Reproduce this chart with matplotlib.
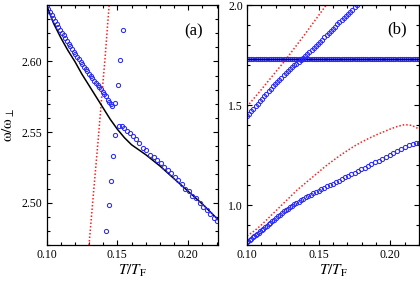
import matplotlib
matplotlib.use("Agg")
import matplotlib.pyplot as plt
from matplotlib.ticker import MultipleLocator

plt.rcParams['font.family'] = ['Liberation Serif', 'DejaVu Serif']
plt.rcParams['mathtext.fontset'] = 'stix'

# ---------------- Panel (a) data ----------------
a_line_T = [0.100, 0.105, 0.110, 0.115, 0.120, 0.125, 0.130, 0.135, 0.140, 0.145,
            0.150, 0.155, 0.160, 0.170, 0.180, 0.190, 0.200, 0.210, 0.221]
a_line_w = [2.640, 2.627, 2.617, 2.608, 2.600, 2.591, 2.583, 2.575, 2.567, 2.559,
            2.552, 2.546, 2.541, 2.534, 2.526, 2.517, 2.508, 2.499, 2.488]

a_up_T = [0.1000, 0.1012, 0.1024, 0.1036, 0.1048, 0.1060, 0.1072, 0.1084, 0.1096, 0.1108,
          0.1120, 0.1132, 0.1144, 0.1156, 0.1168, 0.1180, 0.1192, 0.1204, 0.1216, 0.1228,
          0.1240, 0.1252, 0.1264, 0.1276, 0.1288, 0.1300, 0.1312, 0.1324, 0.1336, 0.1348,
          0.1360, 0.1372, 0.1384, 0.1396, 0.1408, 0.1420, 0.1432, 0.1444, 0.1455, 0.1465]
a_up_w = [2.6400, 2.6375, 2.6352, 2.6330, 2.6308, 2.6287, 2.6266, 2.6245, 2.6225, 2.6205,
          2.6185, 2.6165, 2.6146, 2.6127, 2.6108, 2.6089, 2.6070, 2.6052, 2.6034, 2.6016,
          2.5998, 2.5981, 2.5964, 2.5947, 2.5930, 2.5913, 2.5897, 2.5881, 2.5865, 2.5849,
          2.5833, 2.5818, 2.5802, 2.5787, 2.5772, 2.5757, 2.5730, 2.5712, 2.5697, 2.5685]

a_iso_T = [0.1543, 0.1521, 0.1505, 0.1486, 0.1486, 0.1469, 0.1455, 0.1438, 0.1419]
a_iso_w = [2.622, 2.601, 2.583, 2.5705, 2.548, 2.533, 2.5155, 2.498, 2.480]

a_low_T = [0.1510, 0.1530, 0.1550, 0.1570, 0.1590, 0.1610, 0.1630, 0.1655, 0.1680, 0.1705,
           0.1730, 0.1755, 0.1780, 0.1805, 0.1830, 0.1855, 0.1880, 0.1905, 0.1930, 0.1955,
           0.1980, 0.2005, 0.2030, 0.2055, 0.2080, 0.2105, 0.2130, 0.2155, 0.2180, 0.2205]
a_low_w = [2.554, 2.554, 2.553, 2.551, 2.549, 2.547, 2.545, 2.542, 2.539, 2.537,
           2.534, 2.532, 2.530, 2.528, 2.525, 2.523, 2.521, 2.518, 2.516, 2.513,
           2.510, 2.508, 2.505, 2.503, 2.500, 2.497, 2.495, 2.492, 2.489, 2.487]

a_red_T = [0.1300, 0.1330, 0.1365, 0.1389, 0.1412, 0.1442]
a_red_w = [2.470, 2.505, 2.545, 2.574, 2.601, 2.640]

# ---------------- Panel (b) data ----------------
b_flat_level = 1.73
b_flat_T = [0.1000, 0.1015, 0.1030, 0.1045, 0.1060, 0.1075, 0.1090, 0.1105, 0.1120, 0.1135,
            0.1150, 0.1165, 0.1180, 0.1195, 0.1210, 0.1225, 0.1240, 0.1255, 0.1270, 0.1285,
            0.1300, 0.1315, 0.1330, 0.1345, 0.1360, 0.1375, 0.1390, 0.1405, 0.1420, 0.1435,
            0.1450, 0.1465, 0.1480, 0.1495, 0.1510, 0.1525, 0.1540, 0.1555, 0.1570, 0.1585,
            0.1600, 0.1615, 0.1630, 0.1645, 0.1660, 0.1675, 0.1690, 0.1705, 0.1720, 0.1735,
            0.1750, 0.1765, 0.1780, 0.1795, 0.1810, 0.1825, 0.1840, 0.1855, 0.1870, 0.1885,
            0.1900, 0.1915, 0.1930, 0.1945, 0.1960, 0.1975, 0.1990, 0.2005, 0.2020, 0.2035,
            0.2050, 0.2065, 0.2080, 0.2095, 0.2110, 0.2125, 0.2140, 0.2155, 0.2170, 0.2185,
            0.2200]

b_up_T = [0.1000, 0.1015, 0.1030, 0.1045, 0.1060, 0.1075, 0.1090, 0.1105, 0.1120, 0.1135,
          0.1150, 0.1165, 0.1180, 0.1195, 0.1210, 0.1225, 0.1240, 0.1255, 0.1270, 0.1285,
          0.1300, 0.1315, 0.1330, 0.1345, 0.1360, 0.1375, 0.1390, 0.1405, 0.1420, 0.1435,
          0.1450, 0.1465, 0.1480, 0.1495, 0.1510, 0.1525, 0.1540, 0.1555, 0.1570, 0.1585,
          0.1600, 0.1615, 0.1630, 0.1645, 0.1660, 0.1675, 0.1690, 0.1705, 0.1720, 0.1735,
          0.1750, 0.1765, 0.1780]
b_up_w = [1.445, 1.457, 1.470, 1.482, 1.495, 1.507, 1.520, 1.532, 1.545, 1.557,
          1.570, 1.582, 1.594, 1.605, 1.616, 1.627, 1.637, 1.648, 1.659, 1.670,
          1.680, 1.689, 1.698, 1.707, 1.716, 1.725, 1.734, 1.744, 1.754, 1.764,
          1.774, 1.784, 1.795, 1.805, 1.816, 1.827, 1.838, 1.849, 1.860, 1.871,
          1.881, 1.892, 1.903, 1.914, 1.925, 1.935, 1.946, 1.956, 1.967, 1.977,
          1.988, 1.998, 2.008]

b_low_T = [0.1000, 0.1010, 0.1020, 0.1030, 0.1040, 0.1050, 0.1060, 0.1071, 0.1082, 0.1093,
           0.1104, 0.1115, 0.1127, 0.1139, 0.1151, 0.1163, 0.1175, 0.1188, 0.1201, 0.1214,
           0.1227, 0.1241, 0.1255, 0.1269, 0.1283, 0.1298, 0.1313, 0.1328, 0.1344, 0.1360,
           0.1376, 0.1393, 0.1410, 0.1427, 0.1445, 0.1463, 0.1481, 0.1500, 0.1519, 0.1538,
           0.1558, 0.1578, 0.1598, 0.1619, 0.1640, 0.1661, 0.1683, 0.1705, 0.1727, 0.1750,
           0.1773, 0.1796, 0.1820, 0.1844, 0.1868, 0.1893, 0.1918, 0.1943, 0.1969, 0.1995,
           0.2021, 0.2047, 0.2074, 0.2101, 0.2128, 0.2155, 0.2182, 0.2200]
b_low_w = [0.816, 0.821, 0.827, 0.832, 0.838, 0.843, 0.849, 0.855, 0.862, 0.868,
           0.875, 0.881, 0.889, 0.896, 0.904, 0.912, 0.919, 0.927, 0.936, 0.944,
           0.952, 0.960, 0.968, 0.975, 0.982, 0.989, 0.996, 1.003, 1.010, 1.017,
           1.025, 1.032, 1.039, 1.045, 1.052, 1.059, 1.065, 1.072, 1.079, 1.086,
           1.093, 1.100, 1.107, 1.115, 1.122, 1.130, 1.138, 1.146, 1.154, 1.162,
           1.170, 1.179, 1.187, 1.196, 1.204, 1.213, 1.222, 1.231, 1.240, 1.249,
           1.259, 1.270, 1.281, 1.292, 1.301, 1.307, 1.311, 1.308]

b_red_up_T = [0.100, 0.110, 0.120, 0.1274, 0.130, 0.140, 0.150, 0.1553]
b_red_up_w = [1.492, 1.577, 1.665, 1.730, 1.755, 1.850, 1.948, 2.000]

b_red_low_T = [0.100, 0.105, 0.110, 0.115, 0.120, 0.125, 0.130, 0.135, 0.140, 0.145,
               0.150, 0.155, 0.160, 0.165, 0.170, 0.175, 0.180, 0.185, 0.190, 0.195,
               0.200, 0.205, 0.210, 0.215, 0.220]
b_red_low_w = [0.845, 0.870, 0.900, 0.935, 0.970, 1.005, 1.040, 1.075, 1.105, 1.135,
               1.165, 1.195, 1.222, 1.248, 1.272, 1.295, 1.315, 1.333, 1.350, 1.365,
               1.380, 1.393, 1.402, 1.398, 1.380]

# ---------------- Styling ----------------
BLUE = '#2a2aff'
RED = '#ff2020'
circ = dict(linestyle='none', marker='o', markersize=3.0, markerfacecolor='none',
            markeredgecolor=BLUE, markeredgewidth=0.75)
red_style = dict(color=RED, linestyle=(0, (1, 1.3)), linewidth=1.1)

fig = plt.figure(figsize=(4.2, 2.82), dpi=100)
W, H = 420.0, 282.0
ax1 = fig.add_axes([46.5 / W, (H - 245) / H, (218 - 46.5) / W, 240 / H])
ax2 = fig.add_axes([247 / W, (H - 245) / H, (419 - 247) / W, 240 / H])

# Panel (a)
ax1.plot(a_red_T, a_red_w, **red_style)
ax1.plot(a_line_T, a_line_w, color='black', linewidth=1.1)
ax1.plot(a_up_T, a_up_w, **circ)
ax1.plot(a_iso_T, a_iso_w, **circ)
ax1.plot(a_low_T, a_low_w, **circ)
ax1.set_xlim(0.10, 0.221)
ax1.set_ylim(2.47, 2.64)
ax1.xaxis.set_minor_locator(MultipleLocator(0.01))
ax1.yaxis.set_minor_locator(MultipleLocator(0.01))
ax1.set_xticks([0.10, 0.15, 0.20])
ax1.set_xticklabels(['0.10', '0.15', '0.20'])
ax1.set_yticks([2.50, 2.55, 2.60])
ax1.set_yticklabels(['2.50', '2.55', '2.60'])
ax1.set_xlabel(r'$T/T_{\rm F}$', fontsize=11, labelpad=1)
ax1.set_ylabel(r'$\mathrm{\omega}/\mathrm{\omega}_{\perp}$', fontsize=11, labelpad=3)
ax1.text(0.855, 0.89, '(a)', transform=ax1.transAxes, fontsize=12,
         ha='center', va='center')

# Panel (b)
ax2.plot(b_red_up_T, b_red_up_w, **red_style)
ax2.plot(b_red_low_T, b_red_low_w, **red_style)
ax2.plot(b_flat_T, [b_flat_level for _ in b_flat_T], **circ)
ax2.axhline(b_flat_level, color='#000040', linewidth=1.0)
ax2.plot(b_up_T, b_up_w, **circ)
ax2.plot(b_low_T, b_low_w, **circ)
ax2.set_xlim(0.10, 0.22)
ax2.set_ylim(0.8, 2.0)
ax2.set_xticks([0.10, 0.15, 0.20])
ax2.set_xticklabels(['0.10', '0.15', '0.20'])
ax2.xaxis.set_minor_locator(MultipleLocator(0.01))
ax2.set_yticks([1.0, 1.5, 2.0])
ax2.set_yticklabels(['1.0', '1.5', '2.0'])
ax2.yaxis.set_minor_locator(MultipleLocator(0.1))
ax2.set_xlabel(r'$T/T_{\rm F}$', fontsize=11, labelpad=1)
ax2.text(0.872, 0.90, '(b)', transform=ax2.transAxes, fontsize=12,
         ha='center', va='center')

for ax in (ax1, ax2):
    ax.tick_params(which='both', direction='in', top=True, right=True,
                   labelsize=8.5, pad=3, width=0.8)
    ax.tick_params(which='major', length=3.5)
    ax.tick_params(which='minor', length=2)
    for s in ax.spines.values():
        s.set_linewidth(0.9)

fig.savefig('out.png', dpi=100)
